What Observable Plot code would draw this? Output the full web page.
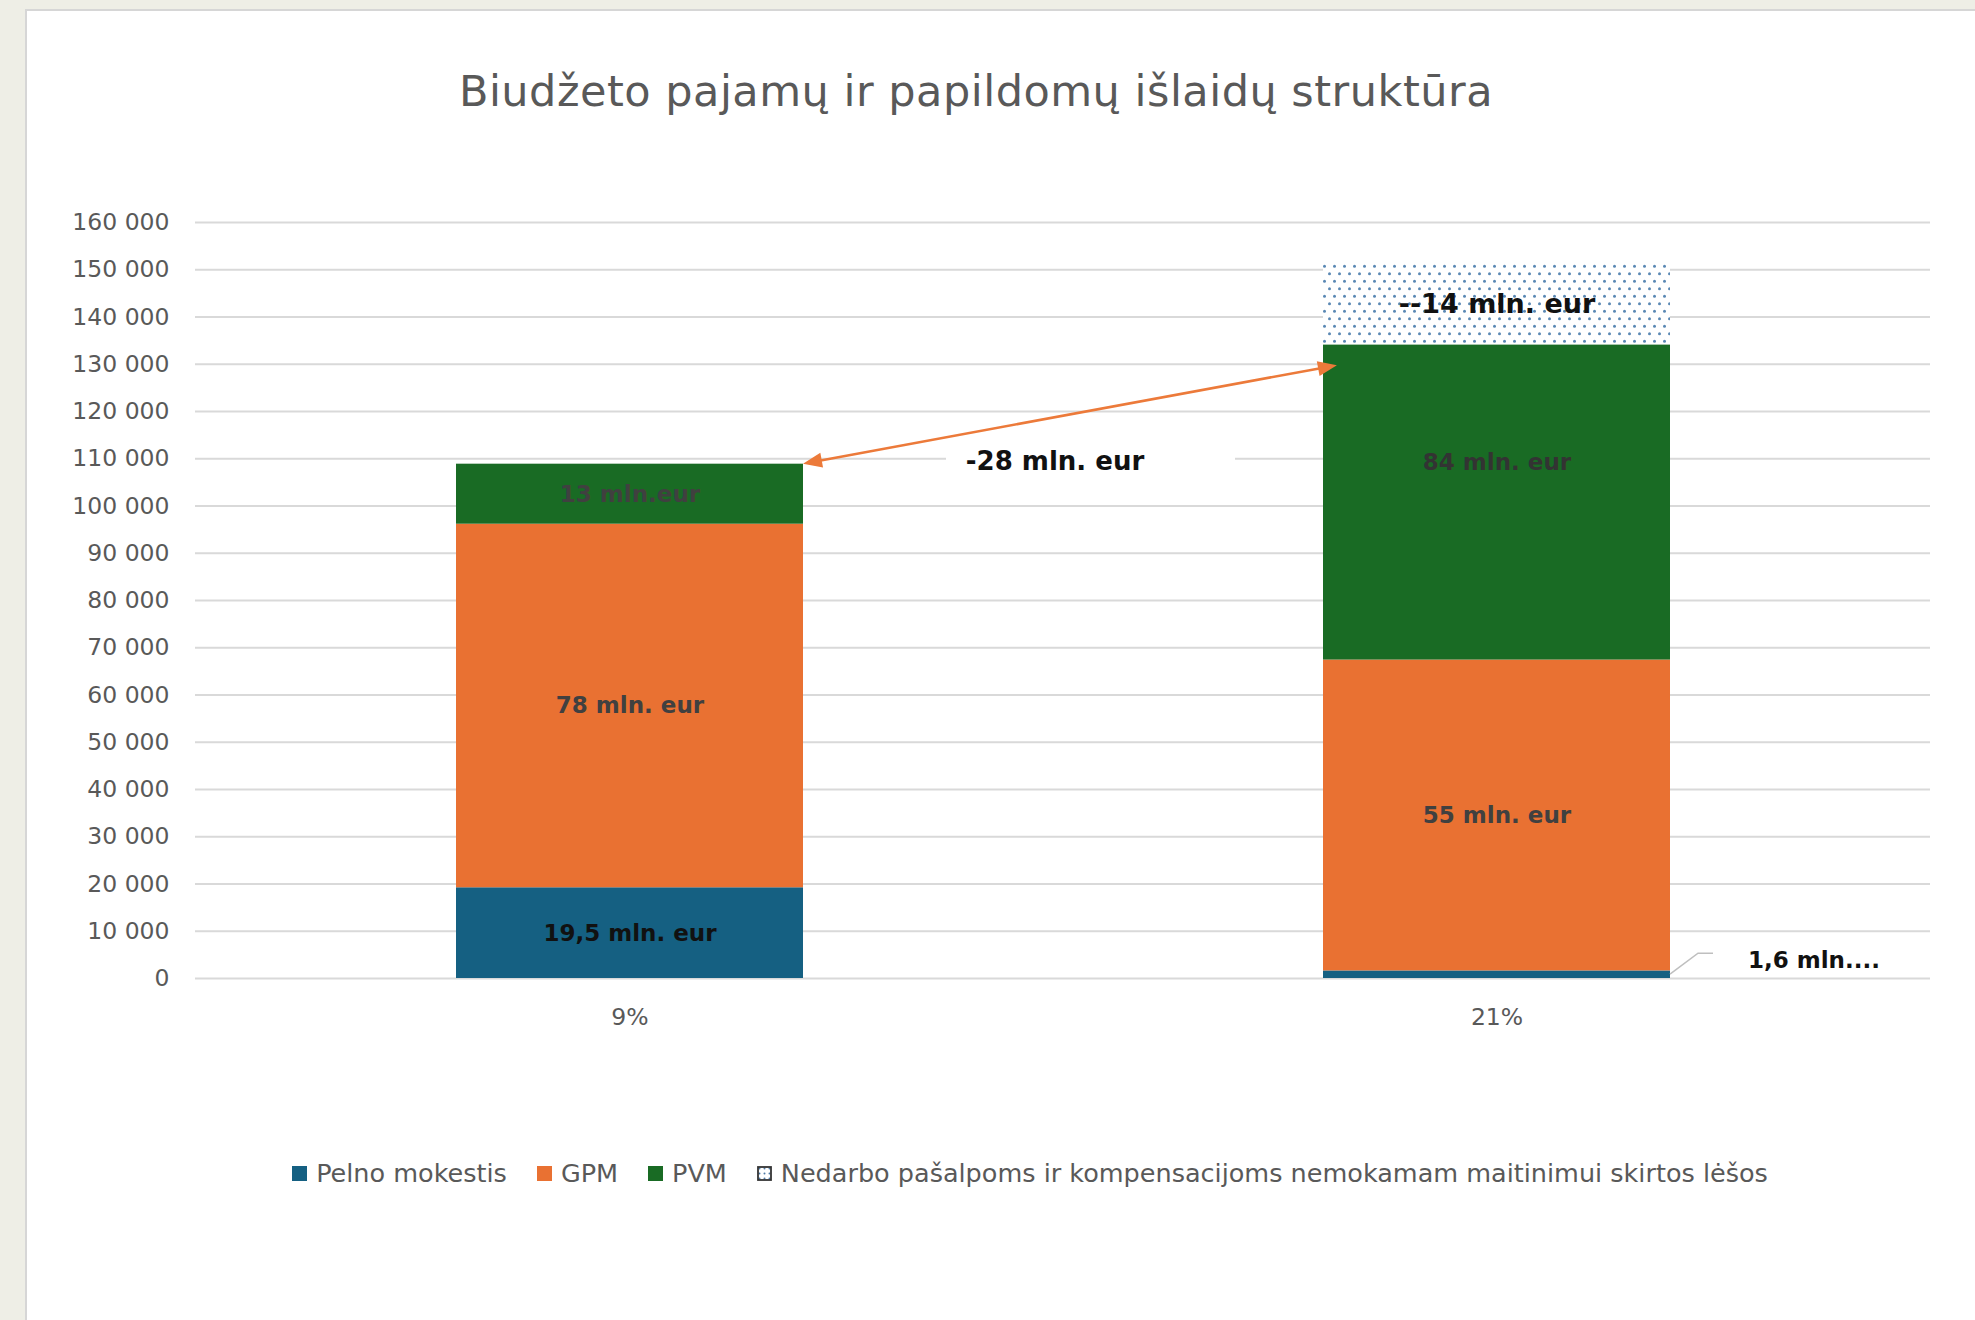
<!DOCTYPE html>
<html><head><meta charset="utf-8">
<script src="https://cdn.jsdelivr.net/npm/d3@7"></script>
<script src="https://cdn.jsdelivr.net/npm/@observablehq/plot@0.6"></script>
<style>
body{margin:0;background:#eeeee6;width:1975px;height:1320px;overflow:hidden;font-family:"DejaVu Sans",sans-serif;}
#panel{position:absolute;left:25px;top:9px;width:1950px;height:1311px;background:#fff;border-left:2px solid #d6d6d6;border-top:2px solid #d6d6d6;}
#title{position:absolute;left:0;width:1898px;top:59px;text-align:center;font-size:43px;line-height:43px;letter-spacing:0.5px;color:#595959;white-space:nowrap;}
#chart{position:absolute;left:0;top:139px;}
#legend{position:absolute;left:58px;width:1890px;top:1147px;height:30px;display:flex;justify-content:center;align-items:center;font-size:25.5px;color:#595959;white-space:nowrap;}
.item{display:flex;align-items:center;margin:0 15px;}
.sw{width:15px;height:15px;margin-right:9px;}
</style></head><body>
<div id="panel">
  <div id="title"></div>
  <div id="chart"></div>
  <div id="legend"></div>
</div>
<script>
// ---- data ----
const titleText = "Biudžeto pajamų ir papildomų išlaidų struktūra";
const categories = ["9%", "21%"];
const seriesNames = ["Pelno mokestis", "GPM", "PVM", "Nedarbo pašalpoms ir kompensacijoms nemokamam maitinimui skirtos lėšos"];
const pelno   = [19200, 1600];
const gpm     = [76950, 65800];
const pvm     = [12700, 66700];
const nedarbo = [0, 17200];
const pelnoLabels   = ["19,5 mln. eur", ""];
const gpmLabels     = ["78 mln. eur", "55 mln. eur"];
const pvmLabels     = ["13 mln.eur", "84 mln. eur"];
const nedarboLabels = ["", "--14 mln. eur"];
const outsideLabel = "1,6 mln....";
const arrowFrom = {cat: "9%", value: 108850};
const arrowTo   = {cat: "21%", value: 129700};
const arrowLabel = "-28 mln. eur";
const arrowLabelValue = 109500;
const yTicks = [0,10000,20000,30000,40000,50000,60000,70000,80000,90000,100000,110000,120000,130000,140000,150000,160000];
const colors = ["#156082", "#E97132", "#196B24", "url(#dots)"];

// ---- table ----
const seriesValues = [pelno, gpm, pvm, nedarbo];
const seriesLabels = [pelnoLabels, gpmLabels, pvmLabels, nedarboLabels];
const rows = [];
categories.forEach((c, i) => seriesNames.forEach((s, j) => rows.push({cat: c, series: s, value: seriesValues[j][i], label: seriesLabels[j][i]})));

document.getElementById("title").textContent = titleText;

const fmt = d3.formatLocale({decimal: ",", thousands: " ", grouping: [3], currency: ["", ""]}).format(",d");
const stackOpts = (extra) => Plot.stackY({x: "cat", y: "value", z: "series", order: seriesNames, text: "label",
  fontFamily: "DejaVu Sans", fontWeight: "bold", fontSize: 23, ...extra});
const isBlack = d => (d.series === seriesNames[0] && d.cat === categories[0]);
const isTop = d => (d.series === seriesNames[3] && d.cat === categories[1]);
const isShifted = d => d.series === seriesNames[2] && d.cat === categories[1];

const chart = Plot.plot({
  width: 1948, height: 940,
  marginLeft: 168, marginRight: 45, marginTop: 72, marginBottom: 112,
  style: {fontFamily: "DejaVu Sans", color: "#595959", background: "transparent", overflow: "visible"},
  x: {domain: categories, paddingInner: 0.6, paddingOuter: 0.3, label: null},
  y: {domain: [0, 160000], label: null},
  color: {domain: seriesNames, range: colors},
  marks: [
    Plot.gridY(yTicks, {stroke: "#d9d9d9", strokeOpacity: 1, strokeWidth: 2}),
    Plot.axisY(yTicks, {tickSize: 0, tickPadding: 26, tickFormat: fmt, fontSize: 23.5, label: null}),
    Plot.axisX({tickSize: 0, tickPadding: 30, fontSize: 23.5, label: null}),
    Plot.barY(rows, {x: "cat", y: "value", fill: "series", order: seriesNames}),
    Plot.text(rows, Plot.filter(d => d.label && !isBlack(d) && !isShifted(d) && !isTop(d), stackOpts({fill: "#404040"}))),
    Plot.text(rows, Plot.filter(d => d.label && isShifted(d), stackOpts({fill: "#333333", dy: -40}))),
    Plot.text(rows, Plot.filter(d => d.label && isBlack(d), stackOpts({fill: "#111111"}))),
    Plot.text(rows, Plot.filter(d => d.label && isTop(d), stackOpts({fill: "#111111", fontSize: 27}))),
  ]
});
document.getElementById("chart").appendChild(chart);

// ---- annotations drawn with the plot's own scales ----
const svg = d3.select(chart);
const xs = chart.scale("x"), ys = chart.scale("y");
const bw = xs.bandwidth;
const defs = svg.insert("defs", ":first-child");
const pat = defs.append("pattern").attr("id", "dots").attr("patternUnits", "userSpaceOnUse").attr("width", 10).attr("height", 15);
pat.append("rect").attr("width", 10).attr("height", 15).attr("fill", "#fff");
pat.append("circle").attr("cx", 2.5).attr("cy", 3.75).attr("r", 1.5).attr("fill", "#5a88b4");
pat.append("circle").attr("cx", 7.5).attr("cy", 11.25).attr("r", 1.5).attr("fill", "#5a88b4");

const g = svg.append("g");
// double arrow
const ax1 = xs.apply(arrowFrom.cat) + bw, ay1 = ys.apply(arrowFrom.value);
const ax2 = xs.apply(arrowTo.cat) + bw * 0.04, ay2 = ys.apply(arrowTo.value);
const ang = Math.atan2(ay2 - ay1, ax2 - ax1);
const head = 19, hw = 7.5;
const tri = (tx, ty, a) => {
  const bx = tx - head * Math.cos(a), by = ty - head * Math.sin(a);
  return [[tx, ty], [bx + hw * Math.sin(a), by - hw * Math.cos(a)], [bx - hw * Math.sin(a), by + hw * Math.cos(a)]].map(p => p.join(",")).join(" ");
};
// label box first (white, covers gridline)
const gapMid = (xs.apply(arrowFrom.cat) + bw + xs.apply(arrowTo.cat)) / 2;
const ly = ys.apply(arrowLabelValue);
g.append("rect").attr("x", gapMid - 117).attr("y", ly - 16).attr("width", 289).attr("height", 32).attr("fill", "#fff");
g.append("text").attr("x", gapMid - 8).attr("y", ly).attr("text-anchor", "middle").attr("dominant-baseline", "central")
  .attr("font-family", "DejaVu Sans").attr("font-weight", "bold").attr("font-size", 26).attr("fill", "#111").text(arrowLabel);
g.append("line")
  .attr("x1", ax1 + head * 0.8 * Math.cos(ang)).attr("y1", ay1 + head * 0.8 * Math.sin(ang))
  .attr("x2", ax2 - head * 0.8 * Math.cos(ang)).attr("y2", ay2 - head * 0.8 * Math.sin(ang))
  .attr("stroke", "#EC7A3A").attr("stroke-width", 2.5);
g.append("polygon").attr("points", tri(ax2, ay2, ang)).attr("fill", "#EC7A3A");
g.append("polygon").attr("points", tri(ax1, ay1, ang + Math.PI)).attr("fill", "#EC7A3A");

// leader line + outside label for the small blue segment
const lx = xs.apply(categories[1]) + bw, lyv = ys.apply(pelno[1] / 2);
g.append("path").attr("d", `M${lx},${lyv}L${lx + 28},${lyv - 21}L${lx + 43},${lyv - 21}`)
  .attr("fill", "none").attr("stroke", "#bfbfbf").attr("stroke-width", 1.5);
g.append("text").attr("x", lx + 78).attr("y", lyv - 14).attr("text-anchor", "start").attr("dominant-baseline", "central")
  .attr("font-family", "DejaVu Sans").attr("font-weight", "bold").attr("font-size", 23).attr("fill", "#111").text(outsideLabel);

// ---- legend ----
const legend = d3.select("#legend");
seriesNames.forEach((s, j) => {
  const it = legend.append("div").attr("class", "item");
  const sw = it.append("svg").attr("class", "sw").attr("width", 15).attr("height", 15);
  if (j < 3) {
    sw.append("rect").attr("width", 15).attr("height", 15).attr("fill", colors[j]);
  } else {
    const p = sw.append("defs").append("pattern").attr("id", "dotsLeg").attr("patternUnits", "userSpaceOnUse").attr("width", 5).attr("height", 5);
    p.append("rect").attr("width", 5).attr("height", 5).attr("fill", "#fff");
    p.append("circle").attr("cx", 2.5).attr("cy", 2.5).attr("r", 1).attr("fill", "#4d7aa5");
    sw.append("rect").attr("x", 1).attr("y", 1).attr("width", 13).attr("height", 13).attr("fill", "url(#dotsLeg)").attr("stroke", "#333").attr("stroke-width", 1.8);
  }
  it.append("span").text(s);
});
</script>
</body></html>
